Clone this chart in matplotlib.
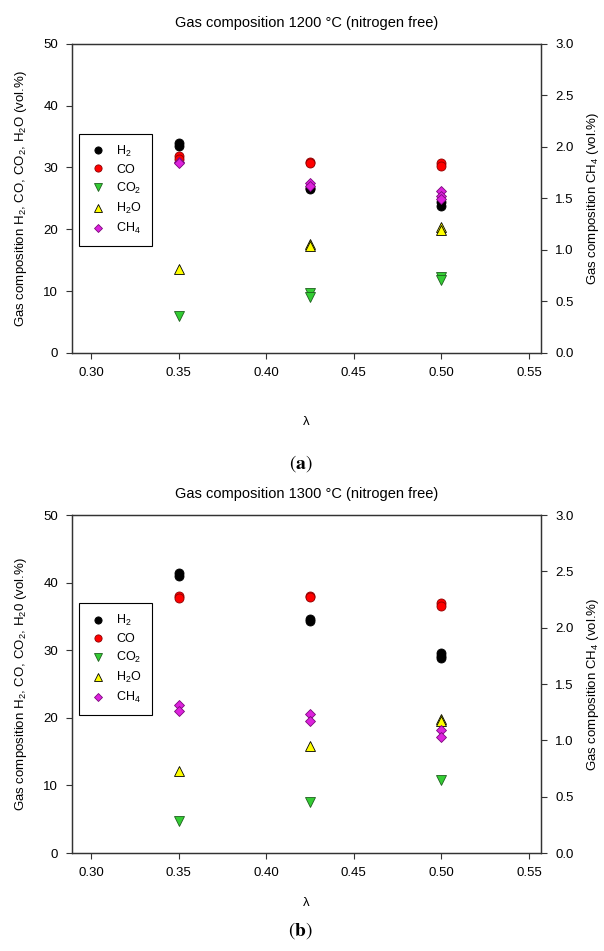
import matplotlib
matplotlib.use("Agg")
import matplotlib.pyplot as plt

plt.rcParams["font.family"] = ["Liberation Sans", "DejaVu Sans"]
plt.rcParams["mathtext.fontset"] = "custom"
plt.rcParams["mathtext.rm"] = "Liberation Sans"
plt.rcParams["mathtext.it"] = "Liberation Sans:italic"
plt.rcParams["mathtext.bf"] = "Liberation Sans:bold"

# panel (a) 1200 C
h2_a_x = [0.35, 0.35, 0.425, 0.425, 0.50, 0.50]
h2_a = [34.0, 33.5, 26.7, 26.5, 24.4, 23.8]
co_a_x = [0.35, 0.35, 0.425, 0.425, 0.50, 0.50]
co_a = [31.8, 31.4, 30.9, 30.7, 30.7, 30.2]
co2_a_x = [0.35, 0.425, 0.425, 0.50, 0.50]
co2_a = [6.0, 9.6, 9.1, 12.3, 11.7]
h2o_a_x = [0.35, 0.425, 0.425, 0.50, 0.50]
h2o_a = [13.5, 17.6, 17.3, 20.4, 19.9]
ch4_a_x = [0.35, 0.35, 0.425, 0.425, 0.50, 0.50, 0.50]
ch4_a = [1.85, 1.84, 1.65, 1.62, 1.57, 1.52, 1.49]

# panel (b) 1300 C
h2_b_x = [0.35, 0.35, 0.425, 0.425, 0.50, 0.50, 0.50]
h2_b = [41.5, 41.0, 34.6, 34.4, 29.6, 29.2, 28.8]
co_b_x = [0.35, 0.35, 0.425, 0.425, 0.50, 0.50]
co_b = [38.0, 37.8, 38.1, 37.9, 37.0, 36.6]
co2_b_x = [0.35, 0.425, 0.50]
co2_b = [4.8, 7.5, 10.8]
h2o_b_x = [0.35, 0.425, 0.50, 0.50]
h2o_b = [12.2, 15.9, 19.9, 19.6]
ch4_b_x = [0.35, 0.35, 0.425, 0.425, 0.50, 0.50]
ch4_b = [1.31, 1.26, 1.23, 1.17, 1.09, 1.03]

x_ticks = [0.30, 0.35, 0.40, 0.45, 0.50, 0.55]
left_ticks = [0, 10, 20, 30, 40, 50]
right_ticks = [0.0, 0.5, 1.0, 1.5, 2.0, 2.5, 3.0]

fig = plt.figure(figsize=(6.04, 9.51), dpi=100)


def panel(rect, title, ylab, series, ch4_x, ch4_y, tag, xpad):
    ax = fig.add_axes(rect)
    ax2 = ax.twinx()
    styles = [("o", "black", "black", "H$_2$"),
              ("o", "red", "#8b0000", "CO"),
              ("v", "#33cc33", "#1f5f1f", "CO$_2$"),
              ("^", "yellow", "black", "H$_2$O")]
    handles = []
    for (mk, fc, ec, lab), (xs, ys) in zip(styles, series):
        h, = ax.plot(xs, ys, ls="none", marker=mk, ms=6.5, mfc=fc, mec=ec,
                     mew=0.6, label=lab)
        handles.append(h)
    h, = ax2.plot(ch4_x, ch4_y, ls="none", marker="D", ms=5.5, mfc="#dd22dd",
                  mec="#7a0a7a", mew=0.6, label="CH$_4$")
    handles.append(h)

    ax.set_xlim(0.289, 0.557)
    ax.set_ylim(0, 50)
    ax2.set_ylim(0, 3.0)
    ax.set_xticks(x_ticks)
    ax.set_xticklabels([f"{t:.2f}" for t in x_ticks])
    ax.set_yticks(left_ticks)
    ax2.set_yticks(right_ticks)
    ax2.set_yticklabels([f"{t:.1f}" for t in right_ticks])
    for a in (ax, ax2):
        a.tick_params(direction="out", length=4, width=0.8, labelsize=9.5,
                      color="#333333", pad=6)
        for s in a.spines.values():
            s.set_linewidth(0.9)
            s.set_color("#333333")
    ax.set_title(title, fontsize=10.5, pad=12)
    ax.set_xlabel("λ", fontsize=9.5, labelpad=xpad)
    ax.set_ylabel(ylab, fontsize=9.5, labelpad=10)
    ax2.set_ylabel("Gas composition CH$_4$ (vol.%)", fontsize=9.5,
                   labelpad=8)

    leg = ax2.legend(handles=handles, loc="upper left",
                     bbox_to_anchor=(0.015, tag[1]), borderaxespad=0,
                     fontsize=9, markerscale=0.8, labelspacing=0.4,
                     handlelength=1.4, handletextpad=0.8, borderpad=0.8,
                     fancybox=False, framealpha=1, edgecolor="black")
    leg.get_frame().set_linewidth(0.8)
    fig.text(rect[0] + rect[2] / 2 - 0.01, tag[2], tag[0], ha="center",
             va="center", fontsize=14, math_fontfamily="stix")


panel([0.119, 0.629, 0.777, 0.325],
      "Gas composition 1200 °C (nitrogen free)",
      "Gas composition H$_2$, CO, CO$_2$, H$_2$O (vol.%)",
      [(h2_a_x, h2_a), (co_a_x, co_a), (co2_a_x, co2_a), (h2o_a_x, h2o_a)],
      ch4_a_x, ch4_a, (r"$(\mathbf{a})$", 0.709, 1 - 464 / 951), 27)

panel([0.119, 0.103, 0.777, 0.3554],
      "Gas composition 1300 °C (nitrogen free)",
      "Gas composition H$_2$, CO, CO$_2$, H$_2$0 (vol.%)",
      [(h2_b_x, h2_b), (co_b_x, co_b), (co2_b_x, co2_b), (h2o_b_x, h2o_b)],
      ch4_b_x, ch4_b, (r"$(\mathbf{b})$", 0.740, 1 - 931 / 951), 13)

fig.savefig("out.png", dpi=100)
